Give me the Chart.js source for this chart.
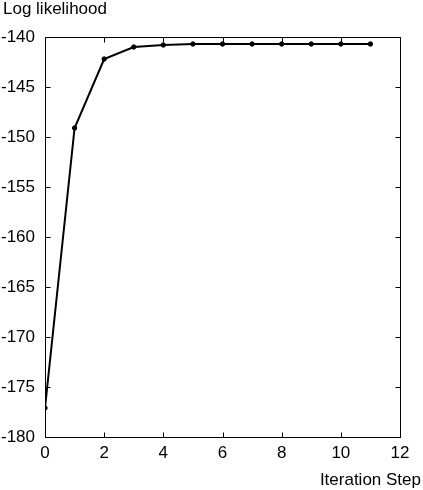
<!DOCTYPE html>
<html>
<head>
<meta charset="utf-8">
<script src="https://cdn.jsdelivr.net/npm/chart.js@4/dist/chart.umd.min.js"></script>
<style>
  html, body { margin: 0; padding: 0; background: #fff; }
  #wrap { width: 423px; height: 490px; }
</style>
</head>
<body>
<div id="wrap"><canvas id="c" width="423" height="490"></canvas></div>
<script>
const iterations = [0, 1, 2, 3, 4, 5, 6, 7, 8, 9, 10, 11];
const logLikelihood = [-177.1, -149.1, -142.2, -141.0, -140.8, -140.7, -140.7, -140.7, -140.7, -140.7, -140.7, -140.7];
const xTicks = [0, 2, 4, 6, 8, 10, 12];
const yTicks = [-180, -175, -170, -165, -160, -155, -150, -145, -140];
const yTitle = 'Log likelihood';
const xTitle = 'Iteration Step';

const FONT = 'Liberation Sans, Arial, Helvetica, sans-serif';

const framePlugin = {
  id: 'frame',
  afterDraw(chart) {
    const ctx = chart.ctx;
    const a = chart.chartArea;
    const xs = chart.scales.x, ys = chart.scales.y;
    const L = Math.round(a.left) + 0.5, R = Math.round(a.right) + 0.5;
    const T = Math.round(a.top) + 0.5, B = Math.round(a.bottom) + 0.5;
    const tl = 5;
    ctx.save();
    ctx.strokeStyle = '#000';
    ctx.lineWidth = 1;
    ctx.beginPath();
    ctx.rect(L, T, R - L, B - T);
    xTicks.forEach(v => {
      const px = Math.round(xs.getPixelForValue(v)) + 0.5;
      ctx.moveTo(px, B); ctx.lineTo(px, B - tl);
      ctx.moveTo(px, T); ctx.lineTo(px, T + tl);
    });
    yTicks.forEach(v => {
      const py = Math.round(ys.getPixelForValue(v)) + 0.5;
      ctx.moveTo(L, py); ctx.lineTo(L + tl, py);
      ctx.moveTo(R, py); ctx.lineTo(R - tl, py);
    });
    ctx.stroke();
    ctx.fillStyle = '#000';
    ctx.font = '17px ' + FONT;
    ctx.textBaseline = 'middle';
    ctx.textAlign = 'left';
    ctx.fillText(yTitle, 3, 9);
    ctx.textAlign = 'right';
    ctx.fillText(xTitle, 421, 480);
    ctx.restore();
  }
};

new Chart(document.getElementById('c'), {
  type: 'line',
  data: {
    datasets: [{
      data: iterations.map((x, i) => ({ x: x, y: logLikelihood[i] })),
      borderColor: '#000',
      backgroundColor: '#000',
      borderWidth: 2,
      pointRadius: 2.2,
      pointBorderWidth: 1,
      pointStyle: 'circle',
      tension: 0,
      fill: false
    }]
  },
  options: {
    responsive: false,
    animation: false,
    devicePixelRatio: 1,
    layout: { padding: { top: 37, right: 23, left: 0, bottom: 0 } },
    plugins: { legend: { display: false }, tooltip: { enabled: false } },
    scales: {
      x: {
        type: 'linear',
        min: 0, max: 12,
        afterBuildTicks(s) { s.ticks = xTicks.map(v => ({ value: v })); },
        afterFit(s) { s.height = 53; },
        grid: { display: false, drawTicks: false },
        border: { display: false },
        ticks: { color: '#000', font: { family: FONT, size: 17 }, padding: 6, maxRotation: 0 }
      },
      y: {
        type: 'linear',
        min: -180, max: -140,
        afterBuildTicks(s) { s.ticks = yTicks.map(v => ({ value: v })); },
        afterFit(s) { s.width = 45; },
        grid: { display: false, drawTicks: false },
        border: { display: false },
        ticks: { color: '#000', font: { family: FONT, size: 17 }, padding: 10 }
      }
    }
  },
  plugins: [framePlugin]
});
</script>
</body>
</html>
